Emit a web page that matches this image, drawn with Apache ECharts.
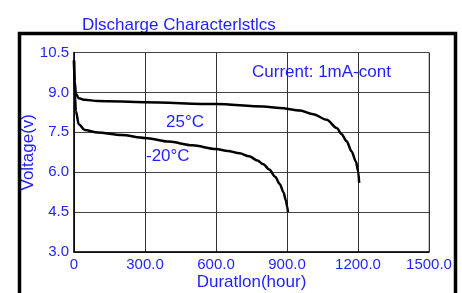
<!DOCTYPE html>
<html>
<head>
<meta charset="utf-8">
<script src="https://cdn.jsdelivr.net/npm/echarts@6/dist/echarts.min.js"></script>
<style>html,body{margin:0;padding:0;background:#fff}#c{width:462px;height:293px}</style>
</head>
<body>
<div id="c"></div>
<script>
const title = 'Dlscharge Characterlstlcs';
const note = 'Current: 1mA-cont';
const xTicks = [0, 300, 600, 900, 1200, 1500];
const yTicks = [3.0, 4.5, 6.0, 7.5, 9.0, 10.5];
const hours25 = [0, 3, 8, 20, 45, 100, 300, 600, 800, 870, 955, 1011, 1068, 1110, 1131, 1152, 1173, 1191, 1201, 1205];
const volts25 = [10.2, 9.4, 8.95, 8.78, 8.72, 8.68, 8.63, 8.56, 8.47, 8.41, 8.32, 8.18, 7.97, 7.66, 7.43, 7.16, 6.78, 6.40, 6.03, 5.60];
const hoursM20 = [0, 3, 8, 20, 45, 100, 200, 300, 400, 500, 600, 650, 700, 740, 775, 800, 825, 850, 870, 885, 895, 901, 904];
const voltsM20 = [10.2, 9.0, 8.3, 7.8, 7.59, 7.49, 7.40, 7.29, 7.15, 7.01, 6.87, 6.80, 6.71, 6.60, 6.44, 6.30, 6.10, 5.83, 5.55, 5.25, 4.95, 4.70, 4.50];
const label25 = '25°C';
const labelM20 = '-20°C';

const blue = '#1f1fff';
const font = '"Liberation Sans", Arial, sans-serif';
const chart = echarts.init(document.getElementById('c'));
const pair = (xs, ys) => xs.map((x, i) => [x, ys[i]]);
chart.setOption({
  animation: false,
  title: {text: title, left: 77, top: 12, textStyle: {color: blue, fontSize: 17, fontWeight: 'normal', fontFamily: font}},
  grid: {left: 74, top: 52.5, right: 33, bottom: 41, show: true, borderColor: '#888', borderWidth: 1, outerBoundsMode: 'none', containLabel: false},
  xAxis: {
    type: 'value', min: 0, max: 1500, interval: 300,
    name: 'Duratlon(hour)', nameLocation: 'middle', nameGap: 22, nameMoveOverlap: false,
    nameTextStyle: {color: blue, fontSize: 17, fontFamily: font},
    axisLine: {show: true, lineStyle: {color: '#000', width: 1.5}},
    axisTick: {show: false},
    axisLabel: {color: blue, fontSize: 15, fontFamily: font, margin: 5, formatter: v => v === 0 ? '0' : v.toFixed(1)},
    splitLine: {show: true, lineStyle: {color: '#333', width: 1}}
  },
  yAxis: {
    type: 'value', min: 3, max: 10.5, interval: 1.5,
    name: 'Voltage(v)', nameLocation: 'middle', nameGap: 37, nameRotate: 90, nameMoveOverlap: false,
    nameTextStyle: {color: blue, fontSize: 17, fontFamily: font},
    axisLine: {show: true, lineStyle: {color: '#000', width: 1.5}},
    axisTick: {show: false},
    axisLabel: {color: blue, fontSize: 15, fontFamily: font, margin: 5, formatter: v => v.toFixed(1)},
    splitLine: {show: true, lineStyle: {color: '#444', width: 1}}
  },
  graphic: [
    {type: 'rect', shape: {x: 19.5, y: 33.5, width: 436, height: 300}, style: {fill: 'none', stroke: '#000', lineWidth: 3.5}, z: 100},
    {type: 'text', left: 252, top: 64, style: {text: note, fill: blue, font: '17px ' + font}},
    {type: 'text', left: 166, top: 114, style: {text: label25, fill: blue, font: '17px ' + font}},
    {type: 'text', left: 146, top: 148, style: {text: labelM20, fill: blue, font: '17px ' + font}}
  ],
  series: [
    {type: 'line', data: pair(hours25, volts25), smooth: 0.3, smoothMonotone: 'x', symbol: 'none', lineStyle: {color: '#000', width: 2.5}},
    {type: 'line', data: pair(hoursM20, voltsM20), smooth: 0.3, smoothMonotone: 'x', symbol: 'none', lineStyle: {color: '#000', width: 2.5}}
  ]
});
</script>
</body>
</html>
